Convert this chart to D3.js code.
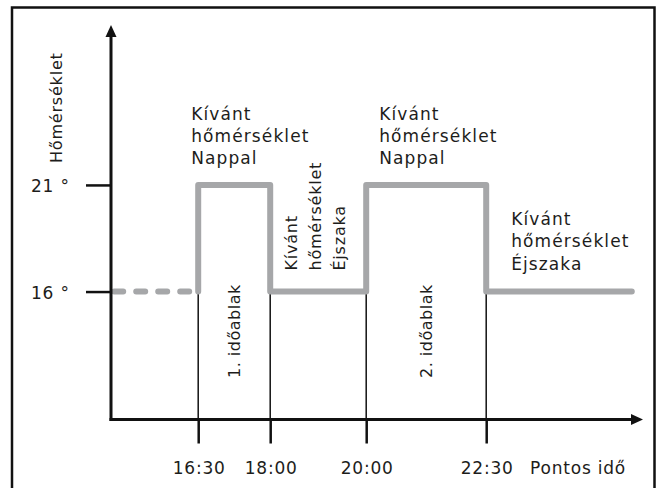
<!DOCTYPE html>
<html>
<head>
<meta charset="utf-8">
<script src="https://cdn.jsdelivr.net/npm/d3@7"></script>
<style>
  html, body { margin: 0; padding: 0; background: #fff; }
  svg { display: block; }
  text { font-family: "DejaVu Sans", sans-serif; fill: #1d1d1b; }
</style>
</head>
<body>
<div id="chart"></div>
<script>
// ---- data ----
const timeTicks = ["16:30", "18:00", "20:00", "22:30"];
const tempTicks = [16, 21];
const tempTickLabels = ["16 °", "21 °"];
const dashedTimes = ["14:45", "16:30"];          // unknown previous state (dashed)
const dashedTemps = [16, 16];
const profileTimes = ["16:30", "16:30", "18:00", "20:00", "22:30", "01:32"];
const profileTemps = [16, 21, 16, 21, 16, 16];
const windowLabels = ["1. időablak", "2. időablak"];
const windowStarts = ["16:30", "20:00"];
const windowEnds = ["18:00", "22:30"];
const dayLabel = ["Kívánt", "hőmérséklet", "Nappal"];
const nightLabel = ["Kívánt", "hőmérséklet", "Éjszaka"];
const yTitle = "Hőmérséklet";
const xTitle = "Pontos idő";

const W = 656, H = 488;
const toMin = s => { const [h, m] = s.split(":").map(Number); let v = h * 60 + m; if (v < 12 * 60) v += 24 * 60; return v; };

const svg = d3.select("#chart").append("svg").attr("width", W).attr("height", H);

// outer frame
svg.append("rect").attr("x", 12).attr("y", 7.5).attr("width", 642.5).attr("height", 500)
  .attr("fill", "none").attr("stroke", "#111").attr("stroke-width", 2.5);

const x = d3.scaleLinear().domain([toMin("14:41"), toMin("01:46")]).range([111, 643]);
const y = d3.scaleLinear().domain([10, 28.5]).range([419.5, 25]);

const x0 = x.range()[0], x1 = x.range()[1];
const yBase = y.range()[0], yTop = y.range()[1];

// guide lines (thin) from 16° level down to the axis
svg.selectAll("line.guide").data(timeTicks).join("line")
  .attr("x1", d => x(toMin(d))).attr("x2", d => x(toMin(d)))
  .attr("y1", y(16)).attr("y2", yBase)
  .attr("stroke", "#111").attr("stroke-width", 1.5);

// gray temperature profile
const line = d3.line().x(d => x(d[0])).y(d => y(d[1]));
svg.append("path")
  .datum(dashedTimes.map((t, i) => [toMin(t), dashedTemps[i]]))
  .attr("d", line)
  .attr("fill", "none").attr("stroke", "#a6a7a9").attr("stroke-width", 6)
  .attr("stroke-linecap", "round").attr("stroke-dasharray", "9,13");
svg.append("path")
  .datum(profileTimes.map((t, i) => [toMin(t), profileTemps[i]]))
  .attr("d", line.curve(d3.curveStepAfter))
  .attr("fill", "none").attr("stroke", "#a6a7a9").attr("stroke-width", 6)
  .attr("stroke-linecap", "round").attr("stroke-linejoin", "round");

// x axis
const xAxis = d3.axisBottom(x).tickValues(timeTicks.map(toMin)).tickSize(24).tickFormat("");
const gx = svg.append("g").attr("transform", `translate(0,${yBase})`).call(xAxis);
gx.select(".domain").remove();
gx.selectAll(".tick line").attr("stroke", "#111").attr("stroke-width", 2.5);
svg.append("line").attr("x1", x0 - 1.5).attr("x2", x1 - 8).attr("y1", yBase).attr("y2", yBase)
  .attr("stroke", "#111").attr("stroke-width", 3);
svg.append("path").attr("d", `M${x1},${yBase} L${x1 - 12},${yBase - 5.5} L${x1 - 12},${yBase + 5.5} Z`).attr("fill", "#111");

// x tick labels
svg.selectAll("text.xt").data(timeTicks).join("text")
  .attr("x", d => x(toMin(d)) + 1).attr("y", 474)
  .attr("text-anchor", "middle").attr("font-size", 17).attr("letter-spacing", 0.8)
  .text(d => d);
svg.append("text").attr("x", 530).attr("y", 474).attr("font-size", 17).attr("letter-spacing", 0.8).text(xTitle);

// y axis
const yAxis = d3.axisLeft(y).tickValues(tempTicks).tickSize(25).tickFormat("");
const gy = svg.append("g").attr("transform", `translate(${x0},0)`).call(yAxis);
gy.select(".domain").remove();
gy.selectAll(".tick line").attr("stroke", "#111").attr("stroke-width", 2.5);
svg.append("line").attr("x1", x0).attr("x2", x0).attr("y1", yBase + 1.5).attr("y2", yTop + 8)
  .attr("stroke", "#111").attr("stroke-width", 3);
svg.append("path").attr("d", `M${x0},${yTop} L${x0 - 5.5},${yTop + 12} L${x0 + 5.5},${yTop + 12} Z`).attr("fill", "#111");

svg.selectAll("text.yt").data(tempTicks).join("text")
  .attr("x", 31).attr("y", d => y(d) + 7.5)
  .attr("font-size", 17).attr("letter-spacing", 0.8)
  .text((d, i) => tempTickLabels[i]);

svg.append("text").attr("transform", `translate(62,163) rotate(-90)`)
  .attr("font-size", 16).attr("letter-spacing", 0.8).text(yTitle);

// horizontal annotations
function block(lines, px, py, gap) {
  const t = svg.append("text").attr("font-size", 17).attr("letter-spacing", 1.1);
  lines.forEach((s, i) => t.append("tspan").attr("x", px).attr("y", py + i * gap).text(s));
}
block(dayLabel, x(toMin(windowStarts[0])) - 7, y(21) - 65, 22);
block(dayLabel, x(toMin(windowStarts[1])) + 13, y(21) - 65, 22);
block(nightLabel, x(toMin(windowEnds[1])) + 25, y(16) - 67, 22.5);

// rotated annotation between windows
const rot = svg.append("text").attr("font-size", 16).attr("letter-spacing", 0.8)
  .attr("transform", `translate(${x(toMin(windowEnds[0])) + 27},${y(16) - 21}) rotate(-90)`);
nightLabel.forEach((s, i) => rot.append("tspan").attr("x", 0).attr("y", i * 24).text(s));

// window labels
svg.selectAll("text.win").data(windowLabels).join("text")
  .attr("font-size", 16).attr("letter-spacing", 0.5)
  .attr("transform", (d, i) => {
    const cx = (x(toMin(windowStarts[i])) + x(toMin(windowEnds[i]))) / 2 + 6;
    return `translate(${cx},378) rotate(-90)`;
  })
  .text(d => d);
</script>
</body>
</html>
